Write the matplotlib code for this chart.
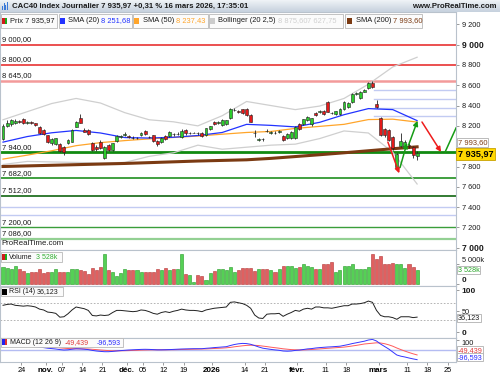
"""CAC40 daily chart, ProRealTime style."""

import matplotlib

matplotlib.use("Agg")
import matplotlib.pyplot as plt
import numpy as np
import pandas as pd
from matplotlib.patches import FancyArrowPatch, Rectangle

plt.rcParams["font.family"] = ["Liberation Sans", "DejaVu Sans"]

W, H = 500, 375

COLORS = {
    "up": "#2ccc2c",
    "down": "#e41a1a",
    "vol_up": "#55d055",
    "vol_down": "#e06060",
    "wick": "#222222",
    "sma20": "#2233ff",
    "sma50": "#ffa52a",
    "sma200": "#7b3a12",
    "boll": "#cfcfcf",
    "frame": "#b9c2cc",
    "fib": "#c2cbf2",
    "arrow_red": "#ee1c1c",
    "arrow_green": "#169c16",
    "ink": "#1a1a1a",
}

# ---- data -------------------------------------------------------------
DAYS = pd.bdate_range("2025-10-20", "2026-03-31")
DAYS = DAYS[~DAYS.isin(pd.to_datetime(["2025-12-25", "2025-12-26", "2026-01-01"]))]

OPEN = [8070, 8200, 8215, 8230, 8245, 8265, 8232, 8236, 8225, 8185,
        8160, 8110, 8030, 8020, 8021, 7995, 8035, 8045, 8192, 8274,
        8159, 8159, 8028, 7995, 8044, 7880, 8010, 7960, 8054, 8095,
        8110, 8105, 8085, 8080, 8115, 8150, 8095, 8110, 8054, 8044,
        8105, 8100, 8120, 8118, 8093, 8160, 8128, 8130, 8128, 8133,
        8110, 8170, 8241, 8225, 8208, 8215, 8274, 8355, 8350, 8363,
        8363, 8307, 8128, 8062, 8070, 8150, 8130, 8133, 8140, 8100,
        8077, 8077, 8077, 8218, 8218, 8258, 8215, 8330, 8340, 8350,
        8432, 8330, 8317, 8317, 8363, 8389, 8432, 8515, 8471, 8537,
        8570, 8625, 8412, 8274, 8166, 8159, 8094, 7800, 8000, 7985,
        8010, 7990, 7905]
HIGH = [8215, 8260, 8270, 8265, 8260, 8275, 8248, 8245, 8232, 8195,
        8170, 8115, 8080, 8085, 8030, 8000, 8075, 8165, 8250, 8317,
        8180, 8170, 8040, 8010, 8060, 8005, 8020, 8035, 8110, 8115,
        8135, 8115, 8100, 8095, 8140, 8158, 8105, 8115, 8060, 8090,
        8115, 8145, 8132, 8135, 8165, 8168, 8140, 8140, 8138, 8140,
        8180, 8200, 8250, 8252, 8265, 8262, 8375, 8372, 8360, 8370,
        8372, 8312, 8159, 8085, 8085, 8165, 8145, 8145, 8155, 8110,
        8128, 8150, 8200, 8225, 8272, 8300, 8280, 8340, 8355, 8358,
        8440, 8340, 8350, 8372, 8445, 8435, 8520, 8535, 8545, 8560,
        8635, 8640, 8455, 8285, 8180, 8170, 8100, 7930, 8130, 8060,
        8030, 8000, 7955]
LOW = [8060, 8190, 8200, 8215, 8230, 8215, 8222, 8218, 8200, 8120,
       8110, 8030, 8015, 8010, 7945, 7913, 8025, 8040, 8185, 8225,
       8135, 8110, 7950, 7955, 7970, 7870, 7950, 7955, 8045, 8085,
       8100, 8080, 8070, 8068, 8105, 8110, 8080, 8045, 8005, 8035,
       8065, 8090, 8105, 8110, 8085, 8115, 8118, 8125, 8112, 8095,
       8105, 8160, 8205, 8215, 8200, 8205, 8265, 8345, 8330, 8315,
       8300, 8235, 8094, 8050, 8055, 8135, 8120, 8122, 8130, 8050,
       8070, 8070, 8070, 8158, 8210, 8250, 8200, 8300, 8330, 8305,
       8335, 8315, 8310, 8310, 8355, 8380, 8425, 8505, 8465, 8530,
       8565, 8570, 8380, 8100, 8095, 8050, 7960, 7770, 7990, 7970,
       7985, 7880, 7865]
CLOSE = [8200, 8225, 8258, 8250, 8240, 8225, 8238, 8228, 8210, 8130,
         8120, 8040, 8067, 8077, 7955, 7946, 8060, 8159, 8241, 8231,
         8143, 8120, 7962, 7975, 7979, 7995, 7960, 8030, 8100, 8102,
         8120, 8095, 8078, 8082, 8125, 8120, 8090, 8054, 8021, 8084,
         8075, 8136, 8117, 8122, 8152, 8126, 8132, 8134, 8125, 8100,
         8175, 8195, 8218, 8240, 8258, 8255, 8363, 8360, 8340, 8323,
         8307, 8241, 8125, 8070, 8068, 8145, 8135, 8130, 8145, 8060,
         8120, 8143, 8192, 8166, 8264, 8290, 8274, 8307, 8345, 8313,
         8340, 8325, 8343, 8363, 8438, 8428, 8514, 8520, 8537, 8553,
         8625, 8586, 8389, 8110, 8110, 8061, 7979, 7920, 8050, 8045,
         8005, 7911, 7936]
VOLUME_K = [4300, 4070, 3660, 4470, 3660, 3250, 2850, 3090, 3090, 3820,
            2850, 3090, 3170, 3820, 3090, 3090, 3010, 3660, 3660, 3500,
            3250, 2680, 4070, 3420, 4310, 7320, 3500, 3090, 2030, 2850,
            3900, 3420, 3420, 3420, 3090, 3010, 3090, 3090, 3660, 3500,
            4070, 3500, 3900, 3900, 7560, 2440, 2280, 650, 2200, 2030,
            1060, 2850, 3250, 3900, 3900, 3500, 4310, 3090, 3500, 4070,
            4070, 4070, 3250, 3900, 3900, 3900, 3500, 3090, 3900, 4470,
            4470, 4470, 4070, 4310, 5120, 4630, 4310, 3660, 3900, 4880,
            5120, 5450, 3090, 3500, 4630, 4630, 5120, 3900, 3900, 3900,
            4310, 7560, 6260, 6910, 5120, 5120, 5290, 5120, 5120, 4070,
            4880, 4310, 3528]
RSI = [64, 66, 67, 64, 63, 62, 63, 62, 60, 55,
       53, 48, 47, 45, 36, 37, 44, 53, 60, 58,
       56, 52, 40, 39, 41, 40, 41, 47, 52, 52,
       51, 50, 49, 50, 53, 52, 49, 45, 43, 47,
       49, 47, 50, 52, 55, 53, 52, 52, 51, 49,
       53, 55, 57, 58, 59, 60, 71, 72, 70, 68,
       64, 57, 41, 34, 33, 43, 44, 44, 45, 38,
       43, 47, 52, 50, 55, 57, 55, 60, 60, 58,
       58, 57, 59, 61, 63, 63, 67, 67, 68, 70,
       74, 71, 52, 40, 37, 37, 35, 31, 37, 37,
       37, 35, 36.123]
MACD = [45, 46, 47, 46, 44, 42, 40, 37, 34, 29,
        24, 18, 14, 10, 4, 0, 2, 8, 12, 11,
        8, 4, -4, -10, -14, -17, -17, -14, -10, -6,
        -3, 0, 2, 4, 6, 7, 6, 4, 2, 2,
        3, 4, 6, 8, 10, 11, 12, 13, 13, 13,
        17, 20, 24, 27, 30, 33, 45, 55, 62, 66,
        64, 57, 44, 30, 18, 12, 6, 1, -3, -10,
        -12, -10, -4, -1, 5, 11, 14, 20, 24, 27,
        30, 32, 35, 38, 46, 54, 64, 72, 80, 88,
        100, 106, 90, 60, 35, 10, -20, -50, -62, -70,
        -80, -89, -96.593]
SIGNAL = [48, 48, 48, 48, 47, 46, 45, 44, 42, 40,
          37, 33, 30, 26, 22, 18, 15, 13, 13, 12,
          11, 10, 7, 4, 0, -3, -6, -8, -8, -8,
          -7, -6, -4, -3, -1, 0, 1, 2, 2, 2,
          2, 3, 3, 4, 5, 6, 7, 8, 9, 10,
          11, 13, 15, 17, 19, 22, 26, 32, 37, 42,
          46, 48, 47, 44, 39, 34, 28, 23, 18, 12,
          8, 4, 2, 1, 1, 3, 5, 8, 11, 14,
          17, 20, 23, 26, 29, 34, 40, 46, 53, 60,
          64, 68, 72, 70, 63, 52, 38, 20, 4, -11,
          -25, -38, -49.439]

# moving averages and bands read at every sixth session
LINE_DAYS = [0, 6, 12, 18, 24, 30, 36, 42, 48, 54, 60, 66, 72, 78, 84, 90, 96, 102]
SMA20 = [8040, 8095, 8132, 8155, 8130, 8085, 8080, 8088, 8105, 8135,
         8215, 8205, 8190, 8235, 8310, 8370, 8360, 8251.68]
SMA50 = [7873, 7912, 7955, 8005, 8035, 8055, 8072, 8086, 8100, 8118,
         8135, 8145, 8175, 8195, 8215, 8262, 8266, 8237.43]
SMA200 = [7800, 7806, 7812, 7818, 7824, 7830, 7838, 7846, 7854, 7860,
          7866, 7880, 7898, 7916, 7935, 7955, 7975, 7993.60]
BOLL_UP = [8260, 8340, 8420, 8470, 8425, 8330, 8260, 8240, 8200, 8300,
           8440, 8400, 8360, 8395, 8470, 8610, 8780, 8875.60]
BOLL_LOW = [7820, 7850, 7845, 7840, 7835, 7840, 7900, 7935, 8010, 7970,
            7990, 8010, 8020, 8075, 8150, 8130, 7940, 7627.75]

LEVELS = [9000, 8800, 8645, 7940, 7682, 7512, 7200, 7086]
LEVEL_LABELS = ["9 000,00", "8 800,00", "8 645,00", "7 940,00",
                "7 682,00", "7 512,00", "7 200,00", "7 086,00"]
LEVEL_STYLE = [("#e62020", 1.1), ("#e62020", 1.1), ("#f39a9a", 1.8), ("#118a11", 2.0),
               ("#1f8f1f", 1.2), ("#0f650f", 1.2), ("#3a9e3a", 1.0), ("#93d093", 1.6)]
PLAIN_LEVELS = [7405, 7320]
FIB_LEVELS = [8553, 8465, 8380, 8297]
FIB_START = 91.5

# trend arrows: (day from, price from, day to, price to)
ARROWS = [
    (94.8, 8041, 97.6, 7733, "arrow_red"),
    (97.8, 7790, 99.5, 8031, "arrow_green"),
    (99.9, 8012, 102.1, 8250, "arrow_green"),
    (103.2, 8238, 107.9, 7943, "arrow_red"),
]
TREND_LINE = (108.9, 7943, 111.6, 8180)

TICK_DATES = ["2025-10-24", "2025-11-03", "2025-11-07", "2025-11-14", "2025-11-21",
              "2025-12-01", "2025-12-05", "2025-12-12", "2025-12-19", "2026-01-02",
              "2026-01-14", "2026-01-21", "2026-02-02", "2026-02-11", "2026-02-18",
              "2026-03-02", "2026-03-11", "2026-03-18", "2026-03-25"]
TICK_LABELS = ["24", "nov.", "07", "14", "21", "déc.", "05", "12", "19", "2026",
               "14", "21", "févr.", "11", "18", "mars", "11", "18", "25"]
BOLD_TICKS = {"nov.", "déc.", "2026", "févr.", "mars"}

PRICE_TICKS = [7000, 7200, 7400, 7600, 7800, 8200, 8400, 8600, 8800, 9000, 9200]

# ---- layout -------------------------------------------------------------
fig = plt.figure(figsize=(W / 100, H / 100), dpi=100)
fig.patch.set_facecolor("white")

X_LIM = (-0.74, 111.58)


def axes_px(x0, y0, x1, y1):
    ax = fig.add_axes([x0 / W, 1 - y1 / H, (x1 - x0) / W, (y1 - y0) / H])
    ax.set_xlim(*X_LIM)
    for side, sp in ax.spines.items():
        sp.set_color(COLORS["frame"])
        sp.set_linewidth(0.8)
    ax.tick_params(axis="x", bottom=False, labelbottom=False)
    ax.yaxis.tick_right()
    ax.tick_params(axis="y", length=2.5, width=0.6, color="#8a8a8a", labelsize=5.3,
                   pad=1.5, labelcolor=COLORS["ink"])
    return ax


def bold_ticks(ax, bold, size=6.2):
    for lbl in ax.get_yticklabels():
        if lbl.get_text() in bold:
            lbl.set_fontweight("bold")
            lbl.set_fontsize(size)


idx = np.arange(len(CLOSE))
o, h, l, c = (np.array(a, dtype=float) for a in (OPEN, HIGH, LOW, CLOSE))
up = c >= o

# main price panel
ax = axes_px(0, 12, 456, 250)
ax.set_ylim(6978, 9321)

for lev, lab, (col, lw) in zip(LEVELS, LEVEL_LABELS, LEVEL_STYLE):
    ax.axhline(lev, color=col, lw=lw, zorder=1)
    ax.annotate(lab, xy=(0, lev), xycoords=ax.get_yaxis_transform(), xytext=(1.5, 1.2),
                textcoords="offset points", va="bottom", ha="left", fontsize=5.5,
                color=COLORS["ink"], zorder=1)
for lev in PLAIN_LEVELS:
    ax.axhline(lev, color=COLORS["fib"], lw=1.0, zorder=1)
for lev in FIB_LEVELS:
    ax.plot([FIB_START, X_LIM[1]], [lev, lev], color=COLORS["fib"], lw=1.0, zorder=1)

ax.plot(LINE_DAYS, BOLL_UP, color=COLORS["boll"], lw=0.9, zorder=2)
ax.plot(LINE_DAYS, BOLL_LOW, color=COLORS["boll"], lw=0.9, zorder=2)
ax.plot(LINE_DAYS, SMA200, color=COLORS["sma200"], lw=2.2, zorder=2)
ax.plot(LINE_DAYS, SMA50, color=COLORS["sma50"], lw=0.9, zorder=2)
ax.plot(LINE_DAYS, SMA20, color=COLORS["sma20"], lw=0.9, zorder=2)

ax.vlines(idx, l, h, color=COLORS["wick"], lw=0.6, zorder=3)
ax.bar(idx, np.abs(c - o), bottom=np.minimum(o, c), width=0.72,
       color=np.where(up, COLORS["up"], COLORS["down"]), edgecolor=COLORS["wick"],
       linewidth=0.4, zorder=4)

for x0, y0, x1, y1, key in ARROWS:
    ax.add_patch(FancyArrowPatch((x0, y0), (x1, y1), arrowstyle="-|>", mutation_scale=7,
                                 lw=1.1, color=COLORS[key], zorder=5, shrinkA=0, shrinkB=0))
ax.plot(TREND_LINE[0::2], TREND_LINE[1::2], color=COLORS["arrow_green"], lw=1.1, zorder=5)

ax.set_yticks(PRICE_TICKS)
ax.set_yticklabels([f"{v // 1000} {v % 1000:03d}" for v in PRICE_TICKS])
bold_ticks(ax, {"9 000", "7 000"})
ax.text(0.004, 7010, "ProRealTime.com", fontsize=5.6, color=COLORS["ink"],
        transform=ax.get_yaxis_transform(), va="bottom", ha="left")

ytr = ax.get_yaxis_transform()
ax.text(1.004, 8035, "7 993,60", transform=ytr, fontsize=5.4, color=COLORS["sma200"],
        va="center", ha="left", clip_on=False,
        bbox=dict(boxstyle="square,pad=0.15", fc="white", ec="#b0b0b0", lw=0.6))
ax.text(1.004, 7925, "7 935,97", transform=ytr, fontsize=6.6, fontweight="bold",
        color="black", va="center", ha="left", clip_on=False,
        bbox=dict(boxstyle="square,pad=0.18", fc="#ffd800", ec="#c9a200", lw=0.6))

# volume panel
axv = axes_px(0, 250, 456, 285.5)
axv.set_ylim(-244, 8415)
axv.bar(idx, VOLUME_K, width=0.75, color=np.where(up, COLORS["vol_up"], COLORS["vol_down"]),
        edgecolor=np.where(up, "#259a25", "#b53434"), linewidth=0.4)
axv.set_yticks([0, 5000])
axv.set_yticklabels(["0", "5 000k"])
bold_ticks(axv, {"0"}, 5.8)
for lbl in axv.get_yticklabels():
    lbl.set_verticalalignment("bottom")
axv.text(1.004, 3528, "3 528k", transform=axv.get_yaxis_transform(), fontsize=5.2,
         color="#2aa52a", va="center", ha="left", clip_on=False,
         bbox=dict(boxstyle="square,pad=0.12", fc="white", ec="#b0b0b0", lw=0.6))

# RSI panel
axr = axes_px(0, 286, 456, 337.5)
axr.set_ylim(-11.9, 109.5)
for lev in (70, 30):
    axr.axhline(lev, color="#a8a8a8", lw=0.6, ls=(0, (2, 2)))
axr.plot(idx, RSI, color="#202020", lw=0.7)
axr.set_yticks([0, 50, 100])
axr.set_yticklabels(["0", "50", "100"])
bold_ticks(axr, {"0", "100"}, 6.0)
axr.text(1.004, 34, "36,123", transform=axr.get_yaxis_transform(), fontsize=5.2,
         color=COLORS["ink"], va="center", ha="left", clip_on=False,
         bbox=dict(boxstyle="square,pad=0.12", fc="white", ec="#b0b0b0", lw=0.6))

# MACD panel
axm = axes_px(0, 337.5, 456, 361.5)
axm.set_ylim(-115, 125)
axm.axhline(0, color="#b4bcf2", lw=1.0)
axm.plot(idx, SIGNAL, color="#ff5a5a", lw=0.7)
axm.plot(idx, MACD, color="#3434ff", lw=0.7)
axm.set_yticks([100])
axm.set_yticklabels(["100"])
for lbl in axm.get_yticklabels():
    lbl.set_verticalalignment("top")
mtr = axm.get_yaxis_transform()
axm.text(1.004, -5, "-49,439", transform=mtr, fontsize=5.2, color="#e03a3a",
         va="center", ha="left", clip_on=False,
         bbox=dict(boxstyle="square,pad=0.1", fc="white", ec="#b0b0b0", lw=0.6))
axm.text(1.004, -72, "-96,593", transform=mtr, fontsize=5.2, color="#2a2aff",
         va="center", ha="left", clip_on=False,
         bbox=dict(boxstyle="square,pad=0.1", fc="white", ec="#b0b0b0", lw=0.6))

tick_pos = [DAYS.get_loc(pd.Timestamp(d)) + 0.5 for d in TICK_DATES]
axm.set_xticks(tick_pos)
axm.set_xticklabels(TICK_LABELS)
axm.tick_params(axis="x", bottom=True, labelbottom=True, length=2, width=0.6,
                color="#8a8a8a", labelsize=5.3, pad=2)
for lbl in axm.get_xticklabels():
    if lbl.get_text() in BOLD_TICKS:
        lbl.set_fontweight("bold")
        lbl.set_fontsize(5.8)

# ---- overlay: title bar and legend boxes (pixel coordinates) -------------
ov = fig.add_axes([0, 0, 1, 1], zorder=10)
ov.axis("off")

grad = np.linspace(0, 1, 12).reshape(-1, 1)
ov.imshow(grad, extent=(0, W, 12, 0), cmap=matplotlib.colors.LinearSegmentedColormap.from_list(
    "bar", ["#eef2f6", "#c7d2de"]), aspect="auto", zorder=0)
ov.set_xlim(0, W)
ov.set_ylim(H, 0)
for k, hgt in enumerate([4, 7, 5, 8]):
    ov.add_patch(Rectangle((2 + k * 1.6, 10 - hgt), 0.9, hgt, color="#3a7ad8", lw=0))
ov.text(12, 6.2, "CAC40 Index Journalier 7 935,97 +0,31 % 16 mars 2026, 17:35:01",
        fontsize=5.6, fontweight="bold", color=COLORS["ink"], va="center", ha="left")
ov.text(497, 6.2, "www.ProRealTime.com", fontsize=5.6, fontweight="bold",
        color=COLORS["ink"], va="center", ha="right")


def legend_box(x0, x1, y0, y1, icon, parts, size=5.4):
    ov.add_patch(Rectangle((x0, y0), x1 - x0, y1 - y0, fc="#fbfbfb", ec="#b8b8b8", lw=0.6))
    yc = (y0 + y1) / 2
    if len(icon) == 2:
        ov.add_patch(Rectangle((x0 + 1.5, yc - 3), 2.5, 6, color=icon[0], lw=0))
        ov.add_patch(Rectangle((x0 + 4, yc - 3), 2.5, 6, color=icon[1], lw=0))
    else:
        ov.add_patch(Rectangle((x0 + 1.5, yc - 3), 5, 6, color=icon[0], lw=0))
    for x, txt, col in parts:
        ov.text(x, yc + 0.3, txt, fontsize=size, color=col, va="center", ha="left")


legend_box(0.5, 57, 13.5, 27.5, ["#d21a1a", "#1caa1c"], [(10, "Prix 7 935,97", COLORS["ink"])])
legend_box(58.5, 131.5, 13.5, 27.5, [COLORS["sma20"]],
           [(68, "SMA (20)", COLORS["ink"]), (101, "8 251,68", COLORS["sma20"])])
legend_box(132.5, 207.5, 13.5, 27.5, [COLORS["sma50"]],
           [(143, "SMA (50)", COLORS["ink"]), (176, "8 237,43", COLORS["sma50"])])
legend_box(208.5, 342.5, 13.5, 27.5, ["#cccccc"],
           [(218, "Bollinger (20 2,5)", COLORS["ink"]), (278, "8 875,60", COLORS["boll"]),
            (307, "7 627,75", COLORS["boll"])])
legend_box(345, 422, 13.5, 27.5, [COLORS["sma200"]],
           [(356, "SMA (200)", COLORS["ink"]), (393, "7 993,60", COLORS["sma200"])])

legend_box(0.5, 62, 251.5, 262, ["#d21a1a", "#1caa1c"],
           [(9, "Volume", COLORS["ink"]), (36, "3 528k", "#33b033")], size=5.0)
legend_box(0.5, 63, 287, 296, ["#000000"],
           [(9, "RSI (14)", COLORS["ink"]), (36.5, "36,123", COLORS["ink"])], size=5.0)
legend_box(0.5, 123, 337.5, 347, ["#2222ee", "#e03030"],
           [(10, "MACD (12 26 9)", COLORS["ink"]), (65, "-49,439", "#e03a3a"),
            (97, "-96,593", "#2a2aff")], size=5.0)

fig.savefig("out.png", dpi=100, facecolor="white")
